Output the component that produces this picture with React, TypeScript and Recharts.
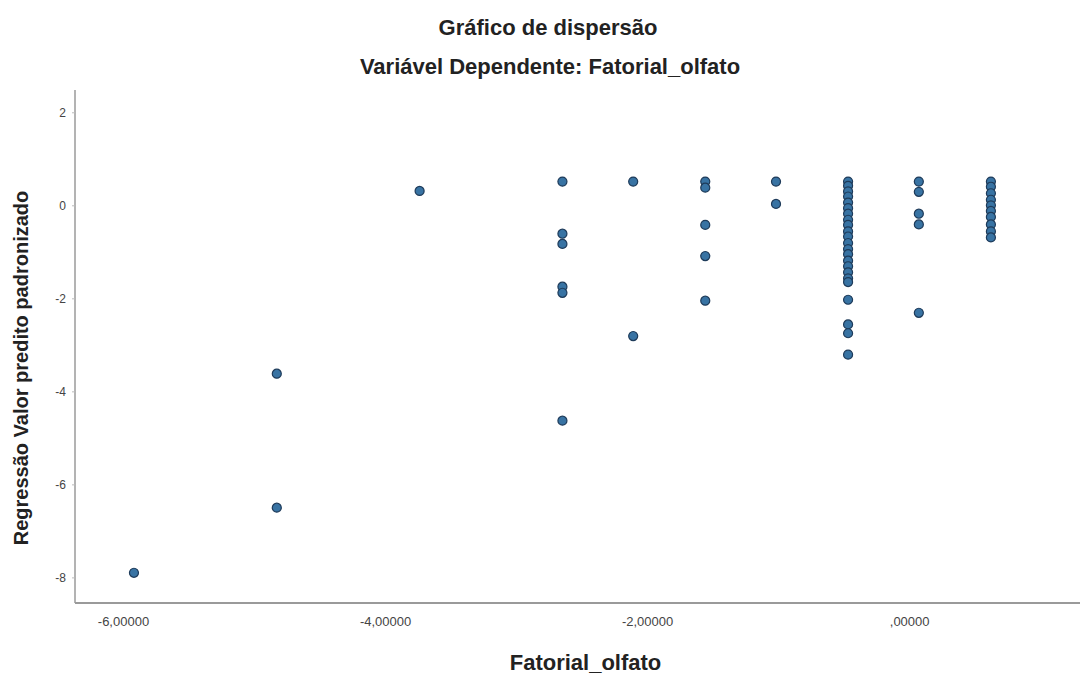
import { ScatterChart, Scatter, XAxis, YAxis, ZAxis } from 'recharts'

// Fatorial_olfato (x) columns and predicted standardized values (y) per column
const colX = [-5.92, -4.83, -3.74, -2.65, -2.11, -1.56, -1.02, -0.47, 0.07, 0.62]

const col1 = [-7.89]
const col2 = [-3.61, -6.49]
const col3 = [0.32]
const col4 = [0.52, -0.6, -0.82, -1.74, -1.87, -4.62]
const col5 = [0.52, -2.8]
const col6 = [0.52, 0.39, -0.41, -1.08, -2.04]
const col7 = [0.52, 0.04]
const col8 = [
  0.52, 0.43, 0.31, 0.2, 0.07, -0.05, -0.17, -0.3, -0.41, -0.55, -0.66, -0.8, -0.93,
  -1.04, -1.18, -1.3, -1.43, -1.56, -1.64, -2.02, -2.55, -2.74, -3.2,
]
const col9 = [0.52, 0.3, -0.17, -0.4, -2.3]
const col10 = [0.52, 0.41, 0.27, 0.13, 0.01, -0.11, -0.24, -0.4, -0.55, -0.68]

const colY = [col1, col2, col3, col4, col5, col6, col7, col8, col9, col10]

const xTicks = [-6, -4, -2, 0]
const yTicks = [-8, -6, -4, -2, 0, 2]

const points = colX.flatMap((x, i) => colY[i].map((y) => ({ x, y })))

const fmtX = (v: number) => (v < 0 ? '-' : '') + Math.abs(v).toFixed(5).replace(/^0/, '').replace('.', ',')

const font = '"Liberation Sans", Arial, sans-serif'

export default function App() {
  return (
    <div style={{ position: 'absolute', left: 0, top: 0, width: 1082, height: 673, background: '#fff', fontFamily: font }}>
      <div style={{ position: 'absolute', top: 15, left: 0, width: 1096, textAlign: 'center', fontWeight: 'bold', fontSize: 22, lineHeight: '26px', color: '#222' }}>
        Gráfico de dispersão
      </div>
      <div style={{ position: 'absolute', top: 54, left: 0, width: 1100, textAlign: 'center', fontWeight: 'bold', fontSize: 22, lineHeight: '26px', color: '#222' }}>
        Variável Dependente: Fatorial_olfato
      </div>
      <ScatterChart width={1082} height={673} margin={{ top: 90, right: 2, bottom: 40, left: 35 }}>
        <XAxis
          type="number"
          dataKey="x"
          domain={[-6.37, 1.3]}
          ticks={xTicks}
          tickFormatter={fmtX}
          axisLine={{ stroke: '#9a9a9a', strokeWidth: 2 }}
          tickLine={false}
          tick={{ fill: '#444', fontSize: 13, fontFamily: font }}
          tickMargin={8}
          height={30}
          allowDataOverflow
        />
        <YAxis
          type="number"
          dataKey="y"
          domain={[-8.54, 2.49]}
          ticks={yTicks}
          axisLine={{ stroke: '#9a9a9a', strokeWidth: 1.5 }}
          tickLine={{ stroke: '#bbb' }}
          tickSize={3}
          tick={{ fill: '#444', fontSize: 12, fontFamily: font }}
          tickMargin={6}
          width={40}
          allowDataOverflow
        />
        <ZAxis range={[135, 135]} />
        <Scatter data={points} shape="circle" fill="#3873a3" stroke="#1e3b5a" strokeWidth={1.2} isAnimationActive={false} />
      </ScatterChart>
      <div style={{ position: 'absolute', top: 650, left: 83, width: 1005, textAlign: 'center', fontWeight: 'bold', fontSize: 22, lineHeight: '26px', color: '#222' }}>
        Fatorial_olfato
      </div>
      <div
        style={{
          position: 'absolute',
          left: 21,
          top: 368,
          transform: 'translate(-50%, -50%) rotate(-90deg)',
          whiteSpace: 'nowrap',
          fontWeight: 'bold',
          fontSize: 20,
          color: '#222',
        }}
      >
        Regressão Valor predito padronizado
      </div>
    </div>
  )
}
